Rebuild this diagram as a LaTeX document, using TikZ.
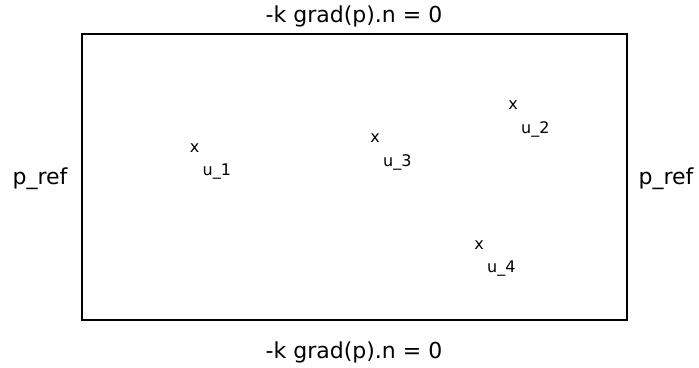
\documentclass[tikz,border=0pt]{standalone}
\usepackage{fontspec}
\setmainfont{DejaVu Sans}
\usepackage{tikz}
\usetikzlibrary{positioning}

\begin{document}
\begin{tikzpicture}[
    x=1pt, y=-1pt,
    bclabel/.style={
        inner sep=0pt,
        anchor=base,
        font=\fontsize{22}{26}\selectfont
    },
    probe/.style={
        inner sep=0pt,
        font=\fontsize{16}{19}\selectfont
    },
    probelabel/.style={
        inner sep=0pt,
        anchor=base west,
        font=\fontsize{16}{19}\selectfont
    },
    boxline/.style={
        draw=black,
        line width=2.6pt
    }
]
\useasboundingbox (0,0) rectangle (699,367);

% Domain
\draw[boxline] (82,34) rectangle (627,320);

% Boundary conditions
\node[bclabel] (bctop) at (354,22) {-k grad(p).n = 0};
\node[bclabel] (bcbottom) at (354,358) {-k grad(p).n = 0};
\node[bclabel] (bcleft) at (40,184) {p\_ref};
\node[bclabel] (bcright) at (666,184) {p\_ref};

% Probe points
\node[probe] (x1) at (194.5,148) {x};
\node[probelabel, below right=16pt and 8pt of x1.center] (u1) {u\_1};
\node[probe] (x2) at (513,105) {x};
\node[probelabel, below right=16pt and 8pt of x2.center] (u2) {u\_2};
\node[probe] (x3) at (375,138) {x};
\node[probelabel, below right=16pt and 8pt of x3.center] (u3) {u\_3};
\node[probe] (x4) at (479,245) {x};
\node[probelabel, below right=16pt and 8pt of x4.center] (u4) {u\_4};

\end{tikzpicture}
\end{document}
